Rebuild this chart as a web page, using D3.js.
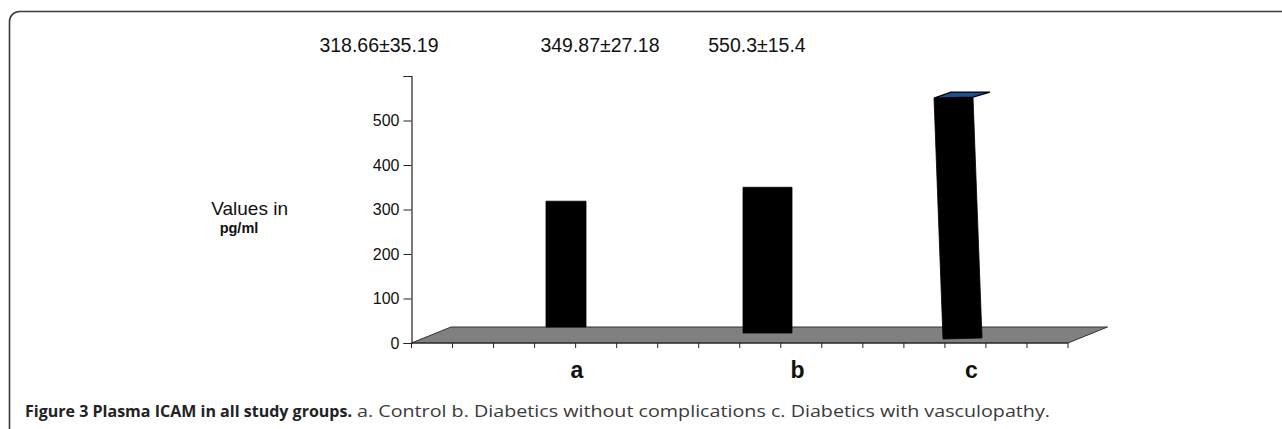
<!DOCTYPE html>
<html>
<head>
<meta charset="utf-8">
<script src="https://cdn.jsdelivr.net/npm/d3@7/dist/d3.min.js"></script>
<style>
  html, body { margin: 0; padding: 0; background: #fff; }
  svg { display: block; }
</style>
</head>
<body>
<svg id="chart" width="1282" height="429"></svg>
<script>
// ---------- data ----------
const categories = ["a", "b", "c"];
const meanValues = [318.66, 349.87, 550.3];
const sdValues = [35.19, 27.18, 15.4];
const annotationLabels = ["318.66±35.19", "349.87±27.18", "550.3±15.4"];
const yTickValues = [0, 100, 200, 300, 400, 500, 600];
const yTickLabels = ["0", "100", "200", "300", "400", "500", ""];
const xMinorTickCount = 17;

// ---------- layout (styling, not data) ----------
const W = 1282, H = 429;
const axisX = 411.5;
const y0 = 343, yTop = 76;
const floorDepth = { dx: 39.5, dy: -16 };
const floorRight = 1068;
const barLayout = [
  { w: 40, dx: 0,  drop: 0,  tilt: 0, labelDx: 11 },
  { w: 49, dx: 3,  drop: 6,  tilt: 0, labelDx: 30 },
  { w: 39, dx: -0.5, drop: 12, tilt: 9, labelDx: 9 }
];
const annotationX = [379, 600, 757];

const svg = d3.select("#chart");

// frame (top and left border with rounded corner)
svg.append("path")
  .attr("d", `M9.5,${H} V21.5 A10,10 0 0 1 19.5,11.5 H${W}`)
  .attr("fill", "none")
  .attr("stroke", "#3a3a3a")
  .attr("stroke-width", 1.6);

// scales
const y = d3.scaleLinear().domain([0, 600]).range([y0, yTop]);
const x = d3.scaleBand().domain(categories).range([466.75, 1062.25]).padding(0);
const xTicks = d3.scaleLinear().domain([0, xMinorTickCount - 1]).range([axisX, floorRight]);

// floor
const floorPts = [
  [axisX, y0],
  [axisX + floorDepth.dx, y0 + floorDepth.dy],
  [floorRight + floorDepth.dx, y0 + floorDepth.dy],
  [floorRight, y0]
];
svg.append("polygon")
  .attr("points", floorPts.map(p => p.join(",")).join(" "))
  .attr("fill", "#808080")
  .attr("stroke", "#333")
  .attr("stroke-width", 1);

// x axis line + minor ticks along front edge of floor
svg.append("line")
  .attr("x1", axisX).attr("x2", floorRight)
  .attr("y1", y0).attr("y2", y0)
  .attr("stroke", "#222").attr("stroke-width", 1.2);
svg.append("g")
  .selectAll("line")
  .data(d3.range(xMinorTickCount))
  .join("line")
  .attr("x1", d => xTicks(d)).attr("x2", d => xTicks(d))
  .attr("y1", y0).attr("y2", y0 + 5)
  .attr("stroke", "#222").attr("stroke-width", 1);

// y axis
const yAxis = d3.axisLeft(y)
  .tickValues(yTickValues)
  .tickFormat((d, i) => yTickLabels[i])
  .tickSize(8)
  .tickPadding(4);
const gy = svg.append("g")
  .attr("transform", `translate(${axisX},0)`)
  .call(yAxis);
gy.select(".domain").attr("stroke", "#222").attr("stroke-width", 1.2);
gy.selectAll(".tick line").attr("stroke", "#222").attr("stroke-width", 1);
gy.selectAll(".tick text")
  .attr("font-family", "'Liberation Sans', Arial, sans-serif")
  .attr("font-size", 16)
  .attr("fill", "#111");

// bars
const floorTop = y0 + floorDepth.dy;
categories.forEach((c, i) => {
  const L = barLayout[i];
  const cx = x(c) + x.bandwidth() / 2 + L.dx;
  const top = y(meanValues[i]);
  const bottom = floorTop + L.drop;
  const bl = [cx - L.w / 2, bottom];
  const br = [cx + L.w / 2, bottom - (L.tilt ? 1 : 0)];
  const tr = [cx + L.w / 2 - L.tilt, top - (L.tilt ? 1 : 0)];
  const tl = [cx - L.w / 2 - L.tilt, top];
  svg.append("polygon")
    .attr("points", [bl, br, tr, tl].map(p => p.join(",")).join(" "))
    .attr("fill", "#000")
    .attr("stroke", "#000")
    .attr("stroke-width", 0.8);
  if (L.tilt) {
    // visible top face of the leaning bar
    const cap = [tl, tr, [tr[0] + 17, tr[1] - 5], [tl[0] + 17, tl[1] - 6]];
    svg.append("polygon")
      .attr("points", cap.map(p => p.join(",")).join(" "))
      .attr("fill", "#1f4f8f")
      .attr("stroke", "#000")
      .attr("stroke-width", 1.2);
  }
  // category label
  svg.append("text")
    .attr("x", cx + L.labelDx)
    .attr("y", 378)
    .attr("text-anchor", "middle")
    .attr("font-family", "'Liberation Sans', Arial, sans-serif")
    .attr("font-weight", "bold")
    .attr("font-size", 23)
    .attr("fill", "#111")
    .text(c);
});

// annotations at top
svg.append("g")
  .selectAll("text")
  .data(annotationLabels)
  .join("text")
  .attr("x", (d, i) => annotationX[i])
  .attr("y", 52)
  .attr("text-anchor", "middle")
  .attr("font-family", "'Liberation Sans', Arial, sans-serif")
  .attr("font-size", 19.5)
  .attr("fill", "#111")
  .text(d => d);

// y axis title
svg.append("text")
  .attr("x", 288).attr("y", 215)
  .attr("text-anchor", "end")
  .attr("font-family", "'Liberation Sans', Arial, sans-serif")
  .attr("font-size", 19)
  .attr("fill", "#111")
  .text("Values in");
svg.append("text")
  .attr("x", 239).attr("y", 233)
  .attr("text-anchor", "middle")
  .attr("font-family", "'Liberation Sans', Arial, sans-serif")
  .attr("font-weight", "bold")
  .attr("font-size", 14.5)
  .attr("fill", "#111")
  .text("pg/ml");

// caption
svg.append("text")
  .attr("x", 25).attr("y", 417)
  .attr("font-family", "'Open Sans', 'Noto Sans', sans-serif")
  .attr("font-weight", "bold")
  .attr("font-size", 16)
  .attr("fill", "#222")
  .attr("textLength", 327).attr("lengthAdjust", "spacing")
  .text("Figure 3 Plasma ICAM in all study groups.");
svg.append("text")
  .attr("x", 357).attr("y", 417)
  .attr("font-family", "'Open Sans', 'Noto Sans', sans-serif")
  .attr("font-size", 16.5)
  .attr("fill", "#3a3a3a")
  .attr("textLength", 693).attr("lengthAdjust", "spacingAndGlyphs")
  .text("a. Control b. Diabetics without complications c. Diabetics with vasculopathy.");
</script>
</body>
</html>
